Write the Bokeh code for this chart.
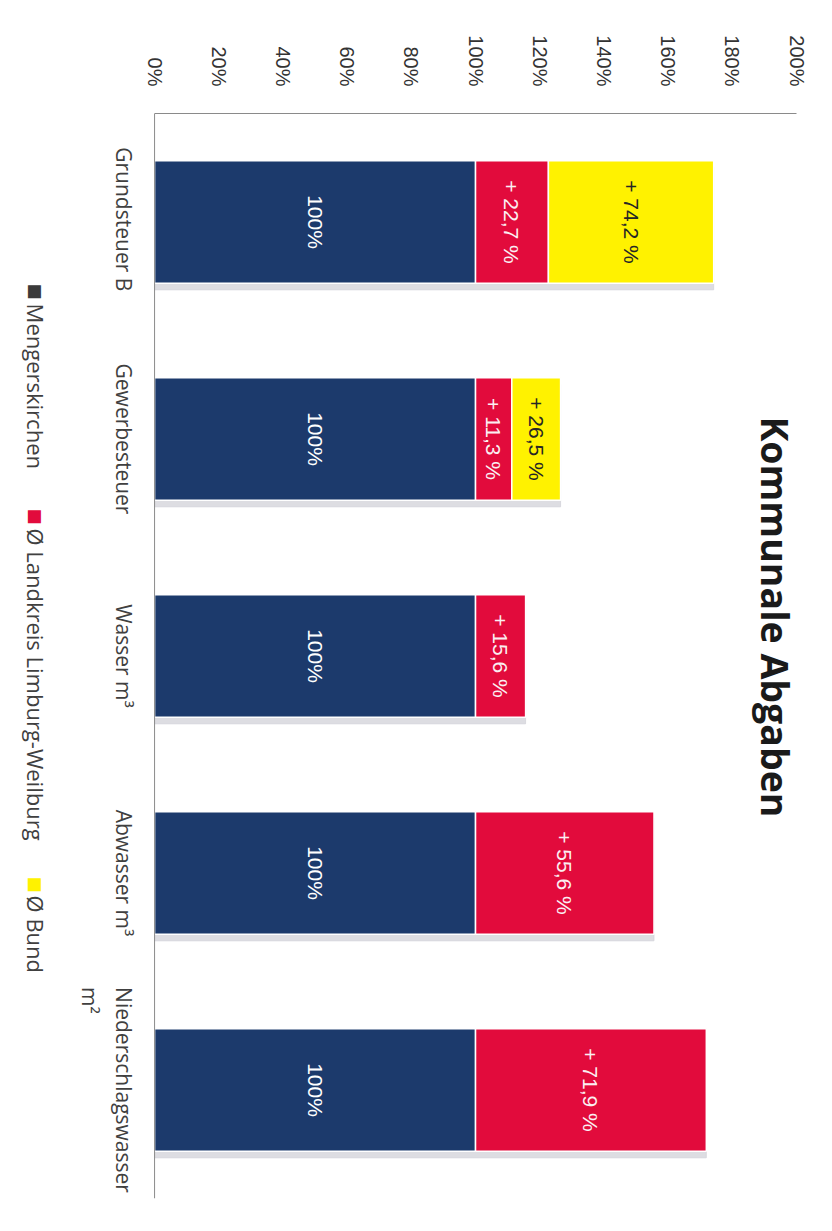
import math
from bokeh.plotting import figure
from bokeh.models import Range1d, FixedTicker, Label, LabelSet, ColumnDataSource, Span
from bokeh.core.properties import value
from bokeh.embed import file_html
from bokeh.resources import INLINE

# ---- data ----
categories = ["Grundsteuer  B", "Gewerbesteuer", "Wasser m³", "Abwasser m³", "Niederschlagswasser\nm²"]
mengerskirchen = [100, 100, 100, 100, 100]
landkreis_plus = [22.7, 11.3, 15.6, 55.6, 71.9]
bund_plus = [74.2, 26.5, None, None, None]
value_ticks = [0, 20, 40, 60, 80, 100, 120, 140, 160, 180, 200]
value_tick_labels = ["0%", "20%", "40%", "60%", "80%", "100%", "120%", "140%", "160%", "180%", "200%"]
series_names = ["Mengerskirchen", "Ø Landkreis Limburg-Weilburg", "Ø Bund"]
title_text = "Kommunale Abgaben"

NAVY = "#1C3A6C"
RED = "#E20B3C"
YELLOW = "#FFF200"
TXT = "#404040"
AXIS = "#8A8A8A"
ROT = -math.pi / 2

idx = list(range(len(categories)))

p = figure(width=816, height=1215, output_backend="svg", toolbar_location=None,
           x_range=Range1d(-48, 200), y_range=Range1d(len(categories) - 0.5, -0.5),
           x_axis_location="above", min_border_left=0, min_border_right=20,
           min_border_top=113, min_border_bottom=17)
p.outline_line_color = None
p.xgrid.visible = False
p.ygrid.visible = False
p.yaxis.visible = False
p.background_fill_color = "white"
p.border_fill_color = "white"

# value axis (top)
ax = p.xaxis[0]
ax.bounds = (0, 200)
ax.ticker = FixedTicker(ticks=value_ticks)
ax.major_label_overrides = {t: l for t, l in zip(value_ticks, value_tick_labels)}
ax.major_label_orientation = ROT
ax.major_tick_out = 0
ax.major_tick_in = 0
ax.minor_tick_out = 0
ax.minor_tick_in = 0
ax.major_label_standoff = 27
ax.axis_line_color = AXIS
ax.major_label_text_font = "Liberation Sans"
ax.major_label_text_font_size = "20px"
ax.major_label_text_color = "#333333"

# category axis line at 0%
p.add_layout(Span(location=0, dimension="height", line_color=AXIS, line_width=1))

# category labels
cat_src = ColumnDataSource(dict(x=[-5.3] * len(idx), y=idx, t=categories))
p.add_layout(LabelSet(x="x", y="y", text="t", source=cat_src, angle=ROT,
                      text_align="center", text_baseline="top",
                      text_color=TXT, text_font=value("Open Sans"),
                      text_font_size="21px"))

# ---- bars ----
H = 0.565
tops_land = [m + l for m, l in zip(mengerskirchen, landkreis_plus)]
b_idx = [i for i in idx if bund_plus[i] is not None]
b_left = [tops_land[i] for i in b_idx]
b_right = [mengerskirchen[i] + bund_plus[i] for i in b_idx]
all_right = [max(tops_land[i], (mengerskirchen[i] + bund_plus[i]) if bund_plus[i] is not None else 0) for i in idx]

# soft shadow
p.hbar(y=[i + 0.03 for i in idx], left=[0] * len(idx), right=all_right, height=H,
       color="#D2D2D8", alpha=0.75)

p.hbar(y=idx, left=[0] * len(idx), right=mengerskirchen, height=H,
       fill_color=NAVY, line_color="white", line_width=1.5)
p.hbar(y=idx, left=mengerskirchen, right=tops_land, height=H,
       fill_color=RED, line_color="white", line_width=1.5)
p.hbar(y=b_idx, left=b_left, right=b_right, height=H,
       fill_color=YELLOW, line_color="white", line_width=1.5)

def fmt(v):
    return ("+ %.1f %%" % v).replace(".", ",")

lab_x, lab_y, lab_t, lab_c = [], [], [], []
for i in idx:
    lab_x.append(mengerskirchen[i] / 2); lab_y.append(i); lab_t.append("%d%%" % mengerskirchen[i]); lab_c.append("#FFFFFF")
    lab_x.append((mengerskirchen[i] + tops_land[i]) / 2); lab_y.append(i); lab_t.append(fmt(landkreis_plus[i])); lab_c.append("#FBEFF2")
for j, i in enumerate(b_idx):
    lab_x.append((b_left[j] + b_right[j]) / 2); lab_y.append(i); lab_t.append(fmt(bund_plus[i])); lab_c.append("#262626")

src = ColumnDataSource(dict(x=lab_x, y=lab_y, t=lab_t, c=lab_c))
p.add_layout(LabelSet(x="x", y="y", text="t", source=src, angle=ROT,
                      text_align="center", text_baseline="middle",
                      text_color="c", text_font=value("Liberation Sans"),
                      text_font_size="21px"))

# ---- title ----
p.add_layout(Label(x=193.5, y=1.82, text=title_text, angle=ROT,
                   text_align="center", text_baseline="middle",
                   text_font="Open Sans", text_font_style="bold",
                   text_font_size="37.5px", text_color="#1A1A1A"))

# ---- legend (rotated, left of category labels) ----
legend_colors = ["#3A3A3A", RED, YELLOW]
marker_pos = [0.283, 1.32, 3.016]
text_pos = [0.376, 1.412, 3.104]
LX = -36.8
for name, col, mp, tp in zip(series_names, legend_colors, marker_pos, text_pos):
    p.add_layout(Label(x=LX, y=mp, text="■", angle=ROT, text_align="left",
                       text_baseline="middle", text_font="DejaVu Sans",
                       text_font_size="17px", text_color=col))
    p.add_layout(Label(x=LX, y=tp, text=name, angle=ROT, text_align="left",
                       text_baseline="middle", text_font="Open Sans",
                       text_font_size="22px", text_color=TXT))

open("out.html", "w").write(file_html(p, INLINE))
